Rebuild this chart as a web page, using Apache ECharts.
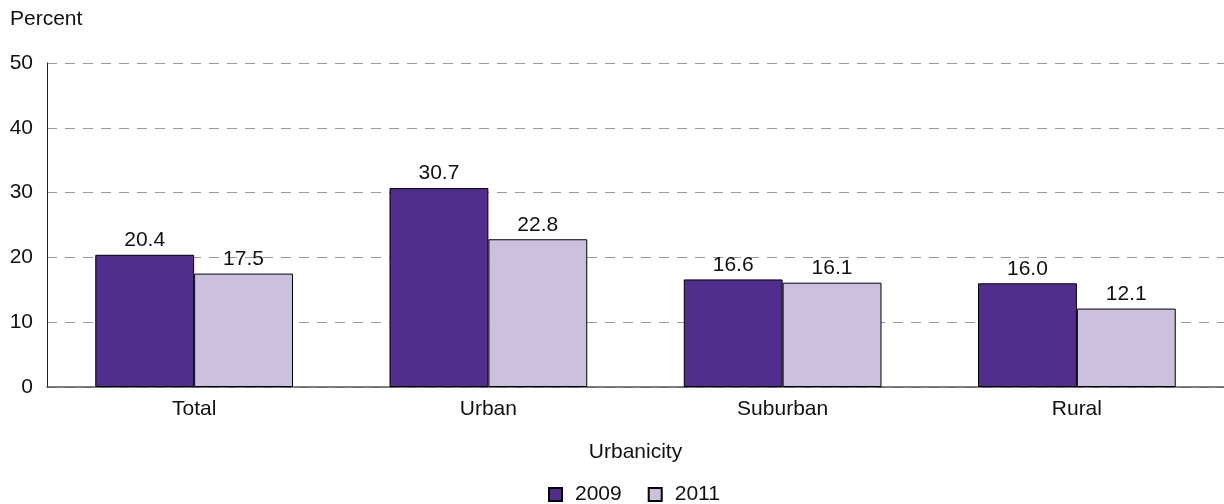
<!DOCTYPE html>
<html><head><meta charset="utf-8">
<script src="https://cdn.jsdelivr.net/npm/echarts@6/dist/echarts.min.js"></script>
<style>html,body{margin:0;padding:0;background:#fff}#c{width:1224px;height:504px}</style>
</head><body><div id="c"></div>
<script>
const categories = ['Total', 'Urban', 'Suburban', 'Rural'];
const values2009 = [20.4, 30.7, 16.6, 16.0];
const values2011 = [17.5, 22.8, 16.1, 12.1];
const seriesNames = ['2009', '2011'];
const yTicks = [0, 10, 20, 30, 40, 50];

const font = 'Liberation Sans, Arial, sans-serif';
const fs = 21;
const chart = echarts.init(document.getElementById('c'));
const lbl = {show: true, position: 'top', distance: 4, color: '#111', fontSize: fs, fontFamily: font, formatter: p => p.value.toFixed(1)};
chart.setOption({
  animation: false,
  textStyle: {fontFamily: font},
  grid: {left: 47, right: 0, top: 63, bottom: 117, containLabel: false},
  legend: {
    top: 484, left: 548, itemWidth: 13, itemHeight: 13, itemGap: 26, padding: 0,
    textStyle: {fontSize: fs, color: '#111', fontFamily: font, padding: [0, 0, 0, 8]},
    data: seriesNames.map(n => ({name: n, icon: 'rect'}))
  },
  graphic: [{type: 'text', left: 10, top: 9, style: {text: 'Percent', fontSize: fs, fill: '#111', fontFamily: font}}],
  xAxis: {
    type: 'category', data: categories,
    name: 'Urbanicity', nameLocation: 'middle', nameGap: 55,
    nameTextStyle: {fontSize: fs, color: '#111', fontFamily: font},
    axisLine: {lineStyle: {color: '#555', width: 1.5}},
    axisTick: {show: false},
    axisLabel: {fontSize: fs, color: '#111', margin: 12, fontFamily: font}
  },
  yAxis: {
    type: 'value', min: yTicks[0], max: yTicks[yTicks.length - 1], interval: 10,
    axisLine: {show: true, lineStyle: {color: '#222', width: 1}},
    axisTick: {show: false},
    axisLabel: {fontSize: fs, color: '#111', margin: 14, fontFamily: font},
    splitLine: {lineStyle: {type: [10, 8], color: '#999', width: 1}}
  },
  series: [
    {name: seriesNames[0], type: 'bar', data: values2009, barGap: '0%', barCategoryGap: '32.8%',
     itemStyle: {color: '#512D8D', borderColor: '#000', borderWidth: 1}, label: lbl},
    {name: seriesNames[1], type: 'bar', data: values2011,
     itemStyle: {color: '#CBC1DF', borderColor: '#000', borderWidth: 1}, label: lbl}
  ]
});
</script></body></html>
